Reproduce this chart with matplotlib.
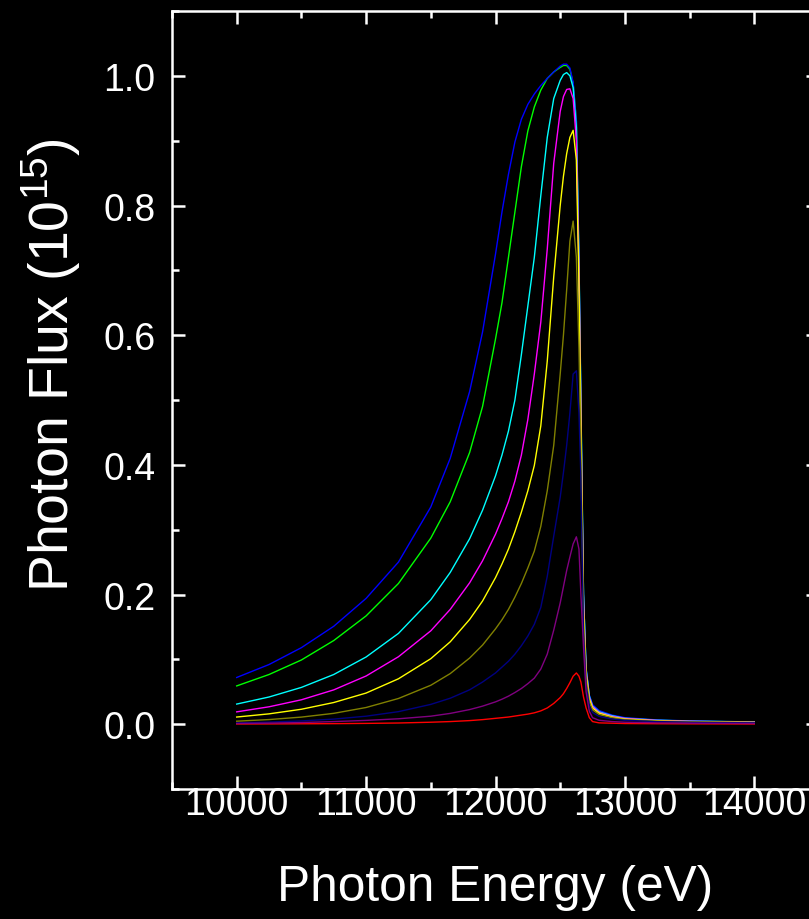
import matplotlib
matplotlib.use("Agg")
import matplotlib.pyplot as plt
from matplotlib.ticker import MultipleLocator

plt.rcParams['font.family'] = ['Liberation Sans', 'DejaVu Sans']
plt.rcParams['mathtext.default'] = 'regular'

# energie (eV), griglia comune a tutte le curve
energy = [10000, 10250, 10500, 10750, 11000, 11250, 11500, 11650, 11800, 11900,
          12000, 12050, 12100, 12150, 12200, 12250, 12300, 12350, 12400, 12450,
          12500, 12525, 12550, 12575, 12600, 12625, 12645, 12660, 12680, 12700,
          12725, 12750, 12800, 12900, 13000, 13250, 13500, 14000]

# flusso (10^15)
red = [0.0003, 0.0004, 0.0006, 0.0008, 0.0012, 0.0018, 0.003, 0.004, 0.0055, 0.007,
       0.009, 0.010, 0.011, 0.0125, 0.014, 0.0155, 0.0175, 0.0205, 0.025, 0.032,
       0.041, 0.047, 0.055, 0.064, 0.074, 0.079, 0.074, 0.065, 0.042, 0.025,
       0.010, 0.004, 0.002, 0.0015, 0.001, 0.0007, 0.0005, 0.0003]
green = [0.059, 0.0766, 0.099, 0.129, 0.167, 0.217, 0.287, 0.343, 0.419, 0.490,
         0.594, 0.650, 0.720, 0.790, 0.860, 0.915, 0.952, 0.978, 0.996, 1.006,
         1.013, 1.016, 1.016, 1.010, 0.988, 0.93, 0.72, 0.50, 0.20, 0.085,
         0.044, 0.029, 0.020, 0.013, 0.0095, 0.0062, 0.0048, 0.0034]
blue = [0.072, 0.092, 0.118, 0.151, 0.194, 0.250, 0.335, 0.410, 0.513, 0.605,
        0.725, 0.790, 0.848, 0.898, 0.933, 0.956, 0.972, 0.985, 0.996, 1.006,
        1.015, 1.018, 1.018, 1.012, 0.990, 0.93, 0.72, 0.50, 0.20, 0.087,
        0.045, 0.030, 0.021, 0.014, 0.010, 0.0065, 0.005, 0.0035]
cyan = [0.031, 0.0419, 0.0567, 0.0766, 0.1036, 0.140, 0.192, 0.234, 0.286, 0.330,
        0.383, 0.415, 0.452, 0.500, 0.570, 0.645, 0.720, 0.815, 0.905, 0.965,
        0.993, 1.002, 1.005, 1.000, 0.982, 0.92, 0.71, 0.49, 0.20, 0.085,
        0.043, 0.028, 0.019, 0.013, 0.009, 0.006, 0.0046, 0.0032]
magenta = [0.019, 0.0268, 0.0376, 0.0529, 0.0743, 0.104, 0.144, 0.177, 0.218, 0.252,
           0.293, 0.317, 0.343, 0.375, 0.415, 0.470, 0.540, 0.620, 0.733, 0.865,
           0.945, 0.968, 0.979, 0.980, 0.965, 0.90, 0.70, 0.48, 0.19, 0.082,
           0.041, 0.027, 0.018, 0.012, 0.0088, 0.0057, 0.0044, 0.003]
yellow = [0.011, 0.0159, 0.023, 0.0334, 0.048, 0.070, 0.101, 0.127, 0.1615, 0.190,
          0.226, 0.247, 0.270, 0.297, 0.327, 0.360, 0.399, 0.460, 0.560, 0.690,
          0.800, 0.845, 0.880, 0.905, 0.916, 0.87, 0.68, 0.47, 0.18, 0.078,
          0.039, 0.025, 0.017, 0.011, 0.008, 0.0052, 0.004, 0.0028]
olive = [0.0046, 0.0071, 0.0109, 0.0167, 0.0257, 0.0396, 0.060, 0.078, 0.102, 0.122,
         0.147, 0.161, 0.177, 0.196, 0.217, 0.241, 0.267, 0.305, 0.360, 0.430,
         0.540, 0.600, 0.670, 0.745, 0.776, 0.72, 0.58, 0.42, 0.16, 0.070,
         0.034, 0.022, 0.015, 0.010, 0.007, 0.0045, 0.0035, 0.0025]
navy = [0.002, 0.0032, 0.005, 0.0078, 0.0123, 0.0193, 0.0305, 0.040, 0.053, 0.065,
        0.079, 0.088, 0.097, 0.108, 0.121, 0.136, 0.154, 0.180, 0.228, 0.290,
        0.350, 0.388, 0.430, 0.480, 0.540, 0.545, 0.48, 0.38, 0.14, 0.060,
        0.028, 0.018, 0.012, 0.008, 0.006, 0.004, 0.003, 0.002]
purple = [0.001, 0.0016, 0.0025, 0.004, 0.0058, 0.0083, 0.0123, 0.0166, 0.0225, 0.0278,
          0.0344, 0.0385, 0.0432, 0.0488, 0.055, 0.0625, 0.071, 0.085, 0.108, 0.145,
          0.187, 0.212, 0.237, 0.258, 0.278, 0.289, 0.270, 0.200, 0.120, 0.050,
          0.020, 0.010, 0.006, 0.004, 0.003, 0.002, 0.0015, 0.001]

series = [(red, '#FF0000'), (green, '#00FF00'), (blue, '#0000FF'), (cyan, '#00FFFF'),
          (magenta, '#FF00FF'), (yellow, '#FFFF00'), (olive, '#808000'),
          (navy, '#000080'), (purple, '#800080')]

fig = plt.figure(figsize=(8.09, 9.2), dpi=100, facecolor='black')
ax = fig.add_axes([172/809, 130/920, 647/809, 778/920], facecolor='black')

for vals, col in series:
    ax.plot(energy, vals, color=col, linewidth=1.0)

ax.set_xlim(9500, 14500)
ax.set_ylim(-0.1, 1.1)
ax.xaxis.set_major_locator(MultipleLocator(1000))
ax.xaxis.set_minor_locator(MultipleLocator(500))
ax.yaxis.set_major_locator(MultipleLocator(0.2))
ax.yaxis.set_minor_locator(MultipleLocator(0.1))
ax.yaxis.set_major_formatter(plt.FuncFormatter(lambda v, p: f"{v:.1f}"))

for s in ax.spines.values():
    s.set_color('white')
    s.set_linewidth(1.8)

ax.tick_params(which='both', direction='in', colors='white', top=True, right=True,
               labelsize=27, width=1.8)
ax.tick_params(which='major', length=9.5)
ax.tick_params(which='minor', length=5)
ax.tick_params(axis='x', pad=-2)
ax.tick_params(axis='y', pad=12)

ax.set_xlabel('Photon Energy (eV)', fontsize=35.7, color='white')
ax.set_ylabel('Photon Flux (10$^{15}$)', fontsize=40, color='white')
ax.xaxis.set_label_coords(0.5, -0.126)
ax.xaxis.label.set_va('center')
ax.yaxis.set_label_coords(-0.187, 0.546)
ax.yaxis.label.set_va('center')

fig.savefig('out.png', dpi=100, facecolor='black')
plt.close()
